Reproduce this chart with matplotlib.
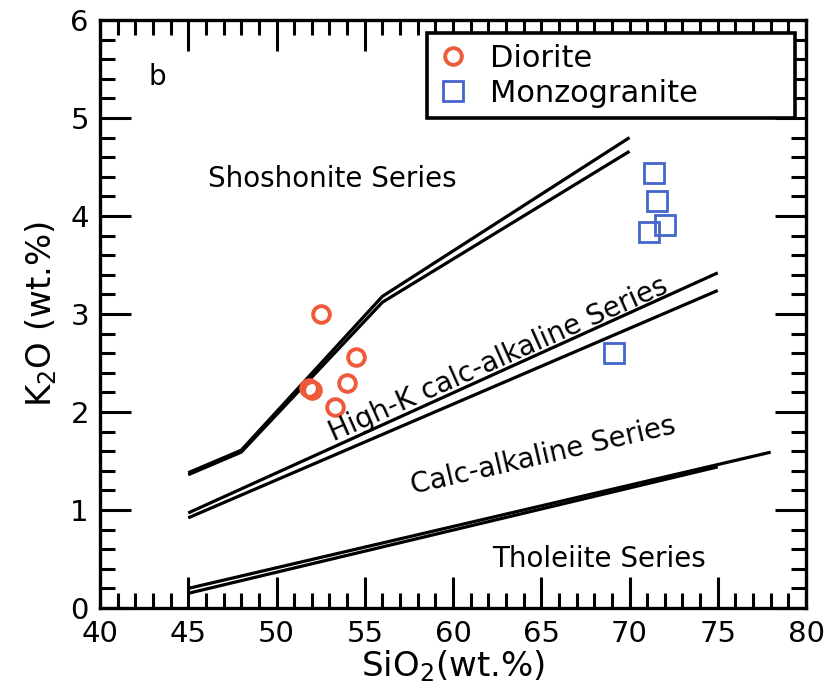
import matplotlib
matplotlib.use("Agg")
import matplotlib.pyplot as plt
from matplotlib.ticker import MultipleLocator

plt.rcParams['font.family'] = ['DejaVu Sans']
plt.rcParams['mathtext.fontset'] = 'custom'
plt.rcParams['mathtext.rm'] = 'DejaVu Sans'

# Sample analyses (SiO2 vs K2O, wt.%)
diorite_sio2 = [52.5, 51.85, 52.0, 53.3, 54.0, 54.5]
diorite_k2o = [3.00, 2.25, 2.22, 2.05, 2.30, 2.56]
monzo_sio2 = [71.4, 71.55, 72.0, 71.1, 69.1]
monzo_k2o = [4.44, 4.15, 3.91, 3.84, 2.60]

# Series boundaries (two published versions of each divide)
shos_a_x = [45, 48, 56, 70]
shos_a_y = [1.38, 1.61, 3.18, 4.80]
shos_b_x = [45, 48, 56, 70]
shos_b_y = [1.36, 1.59, 3.12, 4.66]
highk_a_x = [45, 75]
highk_a_y = [0.97, 3.42]
highk_b_x = [45, 75]
highk_b_y = [0.92, 3.24]
thol_a_x = [45, 78]
thol_a_y = [0.20, 1.59]
thol_b_x = [45, 75]
thol_b_y = [0.15, 1.44]

fig = plt.figure(figsize=(8.27, 6.91), dpi=100)
ax = fig.add_axes([100 / 827, 83 / 691, 706 / 827, 588 / 691])

for xs, ys in [(shos_a_x, shos_a_y), (shos_b_x, shos_b_y),
               (highk_a_x, highk_a_y), (highk_b_x, highk_b_y),
               (thol_a_x, thol_a_y), (thol_b_x, thol_b_y)]:
    ax.plot(xs, ys, color='black', lw=2.3, solid_capstyle='butt', zorder=2)

ax.plot(diorite_sio2, diorite_k2o, linestyle='none', marker='o', ms=12,
        mfc='none', mec='#ee5a3a', mew=2.8, label='Diorite', zorder=3)
ax.plot(monzo_sio2, monzo_k2o, linestyle='none', marker='s', ms=14,
        mfc='none', mec='#4466cc', mew=2.0, label='Monzogranite', zorder=3)

ax.set_xlim(40, 80)
ax.set_ylim(0, 6)
ax.xaxis.set_major_locator(MultipleLocator(5))
ax.xaxis.set_minor_locator(MultipleLocator(1))
ax.yaxis.set_major_locator(MultipleLocator(1))
ax.yaxis.set_minor_locator(MultipleLocator(0.2))
ax.tick_params(which='both', direction='in', top=True, right=True, width=2.2,
               colors='black')
ax.tick_params(which='major', length=22, labelsize=21)
ax.tick_params(axis='x', which='major', pad=9)
ax.tick_params(axis='y', which='major', pad=8)
ax.tick_params(which='minor', length=11)
for sp in ax.spines.values():
    sp.set_linewidth(2.4)

ax.set_xlabel(r'SiO$_\mathregular{2}$(wt.%)', fontsize=24.5, labelpad=0)
ax.set_ylabel(r'K$_\mathregular{2}$O (wt.%)', fontsize=24.5, labelpad=8)

ax.text(42.72, 5.34, 'b', fontsize=20, ha='left', va='baseline')
ax.text(46.12, 4.30, 'Shoshonite Series', fontsize=20, ha='left', va='baseline')
ax.text(53.26, 1.70, 'High-K calc-alkaline Series', fontsize=20, ha='left',
        va='baseline', rotation=24, rotation_mode='anchor')
ax.text(57.73, 1.16, 'Calc-alkaline Series', fontsize=20, ha='left',
        va='baseline', rotation=13, rotation_mode='anchor')
ax.text(62.21, 0.42, 'Tholeiite Series', fontsize=20, ha='left', va='baseline')

leg = ax.legend(loc='upper left', bbox_to_anchor=(0.463, 0.835, 0.521, 0.143),
                mode='expand', borderaxespad=0, fontsize=22, frameon=True,
                fancybox=False, edgecolor='black', framealpha=1,
                handlelength=1.0, handletextpad=0.72, borderpad=0.35,
                labelspacing=0.2)
leg.get_frame().set_linewidth(2.6)

fig.savefig('out.png', dpi=100, facecolor='white')
